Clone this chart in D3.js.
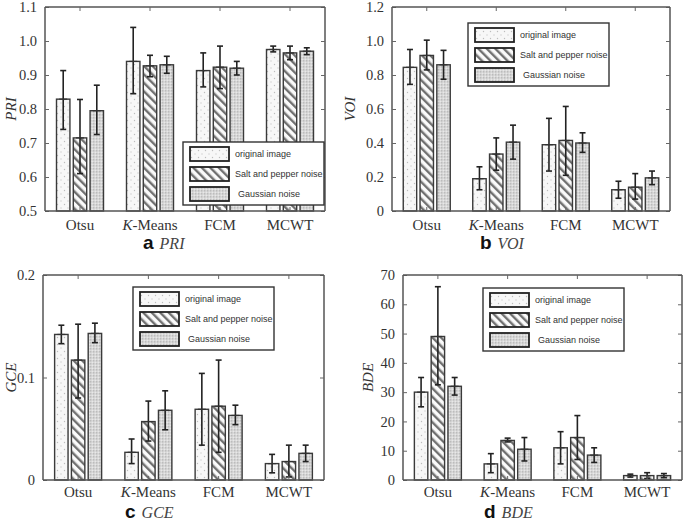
<!DOCTYPE html>
<html><head><meta charset="utf-8">
<script src="https://cdn.jsdelivr.net/npm/d3@7"></script>
<style>body{margin:0;background:#fff}svg{display:block}</style>
</head><body><svg id="c" width="685" height="523"></svg>
<script>
// ---- data ----
const categories = ["Otsu", "K-Means", "FCM", "MCWT"];
const seriesNames = ["original image", "Salt and pepper noise", "Gaussian noise"];

const priOrig  = [0.829, 0.940, 0.913, 0.975];
const priSalt  = [0.715, 0.927, 0.923, 0.965];
const priGauss = [0.795, 0.930, 0.920, 0.970];
const priOrigErr  = [[0.740, 0.913], [0.845, 1.040], [0.865, 0.965], [0.968, 0.985]];
const priSaltErr  = [[0.610, 0.828], [0.895, 0.958], [0.860, 0.985], [0.945, 0.985]];
const priGaussErr = [[0.725, 0.870], [0.905, 0.955], [0.900, 0.940], [0.960, 0.980]];

const voiOrig  = [0.845, 0.190, 0.390, 0.125];
const voiSalt  = [0.915, 0.335, 0.415, 0.140];
const voiGauss = [0.860, 0.405, 0.400, 0.195];
const voiOrigErr  = [[0.745, 0.950], [0.125, 0.260], [0.235, 0.545], [0.075, 0.175]];
const voiSaltErr  = [[0.830, 1.005], [0.240, 0.430], [0.210, 0.615], [0.070, 0.220]];
const voiGaussErr = [[0.775, 0.945], [0.305, 0.505], [0.345, 0.460], [0.155, 0.235]];

const gceOrig  = [0.142, 0.027, 0.069, 0.016];
const gceSalt  = [0.117, 0.057, 0.072, 0.018];
const gceGauss = [0.143, 0.068, 0.063, 0.026];
const gceOrigErr  = [[0.133, 0.151], [0.016, 0.040], [0.034, 0.104], [0.007, 0.025]];
const gceSaltErr  = [[0.080, 0.152], [0.038, 0.077], [0.027, 0.117], [0.003, 0.034]];
const gceGaussErr = [[0.134, 0.153], [0.049, 0.087], [0.054, 0.073], [0.018, 0.034]];

const bdeOrig  = [30.0, 5.5, 11.0, 1.5];
const bdeSalt  = [49.0, 13.5, 14.5, 1.5];
const bdeGauss = [32.0, 10.5, 8.5, 1.5];
const bdeOrigErr  = [[25.0, 35.0], [2.5, 9.0], [5.5, 16.5], [1.0, 2.0]];
const bdeSaltErr  = [[32.5, 66.0], [13.0, 14.3], [7.0, 22.0], [0.5, 2.5]];
const bdeGaussErr = [[29.0, 35.0], [6.5, 14.5], [6.0, 11.0], [0.8, 2.2]];

const priTicks = [0.5, 0.6, 0.7, 0.8, 0.9, 1.0, 1.1];
const priTickLabels = ["0.5", "0.6", "0.7", "0.8", "0.9", "1.0", "1.1"];
const voiTicks = [0, 0.2, 0.4, 0.6, 0.8, 1.0, 1.2];
const voiTickLabels = ["0", "0.2", "0.4", "0.6", "0.8", "1.0", "1.2"];
const gceTicks = [0, 0.1, 0.2];
const gceTickLabels = ["0", "0.1", "0.2"];
const bdeTicks = [0, 10, 20, 30, 40, 50, 60, 70];
const bdeTickLabels = ["0", "10", "20", "30", "40", "50", "60", "70"];

// ---- drawing ----
const svg = d3.select("#c");
const defs = svg.append("defs");

// pattern: original image (sparse dots)
const pDot = defs.append("pattern").attr("id", "pDot").attr("patternUnits", "userSpaceOnUse")
  .attr("width", 7).attr("height", 7);
pDot.append("rect").attr("width", 7).attr("height", 7).attr("fill", "#f7f7f7");
pDot.append("circle").attr("cx", 1.5).attr("cy", 1.5).attr("r", 0.7).attr("fill", "#bdbdbd");
pDot.append("circle").attr("cx", 5).attr("cy", 5).attr("r", 0.7).attr("fill", "#cccccc");

// pattern: salt and pepper (diagonal hatch "\")
const pHatch = defs.append("pattern").attr("id", "pHatch").attr("patternUnits", "userSpaceOnUse")
  .attr("width", 6).attr("height", 6).attr("patternTransform", "rotate(-45)");
pHatch.append("rect").attr("width", 6).attr("height", 6).attr("fill", "#fafafa");
pHatch.append("rect").attr("width", 2.4).attr("height", 6).attr("fill", "#707070");

// pattern: gaussian (dense speckle)
const pGauss = defs.append("pattern").attr("id", "pGauss").attr("patternUnits", "userSpaceOnUse")
  .attr("width", 3).attr("height", 3);
pGauss.append("rect").attr("width", 3).attr("height", 3).attr("fill", "#d8d8d8");
pGauss.append("circle").attr("cx", 0.8).attr("cy", 0.8).attr("r", 0.6).attr("fill", "#9e9e9e");
pGauss.append("circle").attr("cx", 2.3).attr("cy", 2.3).attr("r", 0.55).attr("fill", "#f4f4f4");

const fills = ["url(#pDot)", "url(#pHatch)", "url(#pGauss)"];

const panels = [
  { letter: "a", name: "PRI", x0: 45, x1: 325, y0: 211, y1: 7, domain: [0.5, 1.1],
    ticks: priTicks, labels: priTickLabels,
    vals: [priOrig, priSalt, priGauss], errs: [priOrigErr, priSaltErr, priGaussErr],
    legend: [183, 142], titleX: 11, capX: 143, capY: 249, catY: 230 },
  { letter: "b", name: "VOI", x0: 392, x1: 670, y0: 211, y1: 7, domain: [0, 1.2],
    ticks: voiTicks, labels: voiTickLabels,
    vals: [voiOrig, voiSalt, voiGauss], errs: [voiOrigErr, voiSaltErr, voiGaussErr],
    legend: [468, 23], titleX: 350, capX: 480, capY: 249, catY: 230 },
  { letter: "c", name: "GCE", x0: 43, x1: 324, y0: 480, y1: 275, domain: [0, 0.2],
    ticks: gceTicks, labels: gceTickLabels,
    vals: [gceOrig, gceSalt, gceGauss], errs: [gceOrigErr, gceSaltErr, gceGaussErr],
    legend: [133, 287], titleX: 11, capX: 125, capY: 518, catY: 497 },
  { letter: "d", name: "BDE", x0: 403, x1: 682, y0: 480, y1: 275, domain: [0, 70],
    ticks: bdeTicks, labels: bdeTickLabels,
    vals: [bdeOrig, bdeSalt, bdeGauss], errs: [bdeOrigErr, bdeSaltErr, bdeGaussErr],
    legend: [483, 288], titleX: 368, capX: 484, capY: 518, catY: 497 }
];

const serif = "'Liberation Serif', 'Times New Roman', serif";
const sans = "'Liberation Sans', Arial, sans-serif";

panels.forEach(p => {
  const g = svg.append("g");
  const x = d3.scaleBand().domain(categories).range([p.x0, p.x1]);
  const y = d3.scaleLinear().domain(p.domain).range([p.y0, p.y1]);
  const xs = d3.scaleBand().domain(seriesNames).range([-23.5, 23.5]).paddingInner(0.2);

  // bars
  seriesNames.forEach((s, si) => {
    categories.forEach((c, ci) => {
      const v = p.vals[si][ci];
      const bx = x(c) + x.bandwidth() / 2 + xs(s);
      g.append("rect").attr("x", bx).attr("y", y(v))
        .attr("width", xs.bandwidth()).attr("height", y(p.domain[0]) - y(v))
        .attr("fill", fills[si]).attr("stroke", "#3a3a3a").attr("stroke-width", 1.4);
    });
  });
  // error bars
  seriesNames.forEach((s, si) => {
    categories.forEach((c, ci) => {
      const [lo, hi] = p.errs[si][ci];
      const cx = x(c) + x.bandwidth() / 2 + xs(s) + xs.bandwidth() / 2;
      g.append("line").attr("x1", cx).attr("x2", cx).attr("y1", y(lo)).attr("y2", y(hi))
        .attr("stroke", "#222").attr("stroke-width", 1.6);
      [lo, hi].forEach(e => g.append("line").attr("x1", cx - 3).attr("x2", cx + 3)
        .attr("y1", y(e)).attr("y2", y(e)).attr("stroke", "#222").attr("stroke-width", 1.6));
      g.append("line").attr("x1", cx - 4).attr("x2", cx + 4)
        .attr("y1", y(p.vals[si][ci])).attr("y2", y(p.vals[si][ci]))
        .attr("stroke", "#333").attr("stroke-width", 1.2);
    });
  });

  // axes (box with inward ticks)
  const axL = d3.axisLeft(y).tickValues(p.ticks).tickSize(-4).tickPadding(8)
    .tickFormat((d, i) => p.labels[i]);
  const gl = g.append("g").attr("transform", `translate(${p.x0},0)`).call(axL);
  const axR = d3.axisRight(y).tickValues(p.ticks).tickSize(-4).tickFormat("");
  const gr = g.append("g").attr("transform", `translate(${p.x1},0)`).call(axR);
  const axB = d3.axisBottom(x).tickSize(-4).tickPadding(10);
  const gb = g.append("g").attr("transform", `translate(0,${p.y0})`).call(axB);
  const axT = d3.axisTop(x).tickSize(-4).tickFormat("");
  const gt = g.append("g").attr("transform", `translate(0,${p.y1})`).call(axT);
  [gl, gr, gb, gt].forEach(a => {
    a.select(".domain").attr("stroke", "#555").attr("stroke-width", 1.5)
      .attr("d", a === gl || a === gr ? `M0,${p.y0}V${p.y1}` : `M${p.x0},0H${p.x1}`);
    a.selectAll(".tick line").attr("stroke", "#666").attr("stroke-width", 1);
  });
  gl.selectAll(".tick text").attr("font-family", serif).attr("font-size", 14.5).attr("fill", "#333");
  gb.selectAll(".tick text").remove();
  categories.forEach(c => {
    const t = g.append("text").attr("x", x(c) + x.bandwidth() / 2).attr("y", p.catY)
      .attr("text-anchor", "middle").attr("font-family", serif).attr("font-size", 15).attr("fill", "#333");
    if (c === "K-Means") {
      t.append("tspan").attr("font-style", "italic").text("K");
      t.append("tspan").text("-Means");
    } else t.text(c);
  });

  // y title
  g.append("text").attr("transform", `translate(${p.titleX},${(p.y0 + p.y1) / 2}) rotate(-90)`)
    .attr("text-anchor", "middle").attr("dy", "0.35em")
    .attr("font-family", serif).attr("font-style", "italic").attr("font-size", 15).attr("fill", "#333")
    .text(p.name);

  // caption
  const cap = g.append("text").attr("x", p.capX).attr("y", p.capY).attr("fill", "#111");
  cap.append("tspan").attr("font-family", sans).attr("font-weight", "bold").attr("font-size", 19).text(p.letter);
  cap.append("tspan").attr("dx", 6).attr("font-family", serif).attr("font-style", "italic")
    .attr("font-size", 16).attr("fill", "#444").text(p.name);

  // legend
  const [lx, ly] = p.legend;
  const lg = g.append("g").attr("transform", `translate(${lx},${ly})`);
  lg.append("rect").attr("width", 141).attr("height", 63).attr("fill", "#fff")
    .attr("stroke", "#333").attr("stroke-width", 1.4);
  seriesNames.forEach((s, si) => {
    lg.append("rect").attr("x", 7).attr("y", 5 + si * 20).attr("width", 39).attr("height", 14)
      .attr("fill", fills[si]).attr("stroke", "#222").attr("stroke-width", 1.8);
    lg.append("text").attr("x", si === 2 ? 55 : 52).attr("y", 12 + si * 20).attr("dy", "0.35em")
      .attr("font-family", sans).attr("font-size", 9).attr("fill", "#333").text(s);
  });
});
</script></body></html>
